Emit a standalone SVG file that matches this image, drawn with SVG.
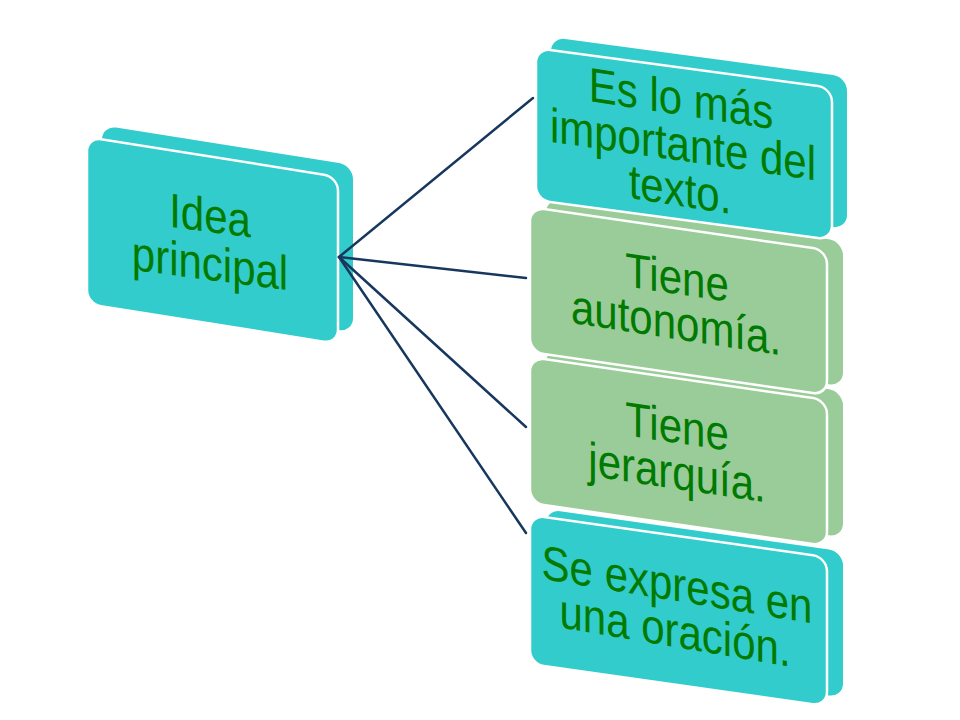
<svg xmlns="http://www.w3.org/2000/svg" width="960" height="720" viewBox="0 0 960 720">
<style>
.teal{fill:#33CCCC}
.green{fill:#99CC99}
.front{stroke:#FFFFFF;stroke-width:2.5}
.lbl{font-family:"Liberation Sans",Arial,sans-serif;font-size:42px;fill:#007A00;text-anchor:middle}
.conn{stroke:#17375E;stroke-width:2.5;fill:none;stroke-linecap:round}
</style>
<rect width="960" height="720" fill="#FFFFFF"/>
<g id="node-idea">
  <g transform="matrix(1,0.159,0,1,87,137)">
    <rect class="teal" x="15" y="-14" width="251" height="167" rx="14"/>
    <rect class="teal front" x="0" y="0" width="251" height="167" rx="14"/>
  </g>
  <text class="lbl" transform="matrix(1,0.13,0,1.15,210,232)">Idea</text>
  <text class="lbl" transform="matrix(1,0.13,0,1.15,210,280)">principal</text>
</g>
<g id="node-4">
  <g transform="matrix(1,0.142,0,1,530,515)">
    <rect class="teal" x="16" y="-8" width="297" height="146" rx="14"/>
    <rect class="teal front" x="0" y="0" width="297" height="149" rx="14"/>
  </g>
  <text class="lbl" transform="matrix(1,0.165,0,1.15,677,601)">Se expresa en</text>
  <text class="lbl" transform="matrix(1,0.17,0,1.15,675,647)">una oración.</text>
</g>
<g id="node-3">
  <g transform="matrix(1,0.145,0,1,530,357)">
    <rect class="green" x="16" y="-11" width="297" height="146" rx="14"/>
    <rect class="green front" x="0" y="0" width="297" height="146" rx="14"/>
  </g>
  <text class="lbl" transform="matrix(1,0.148,0,1.15,677,443)">Tiene</text>
  <text class="lbl" transform="matrix(1,0.15,0,1.15,677,489)">jerarquía.</text>
</g>
<g id="node-2">
  <g transform="matrix(1,0.145,0,1,530,207)">
    <rect class="green" x="16" y="-11" width="297" height="145" rx="14"/>
    <rect class="green front" x="0" y="0" width="297" height="145" rx="14"/>
  </g>
  <text class="lbl" transform="matrix(1,0.148,0,1.15,677,294)">Tiene</text>
  <text class="lbl" transform="matrix(1,0.155,0,1.15,676,339)">autonomía.</text>
</g>
<g id="node-1">
  <g transform="matrix(1,0.135,0,1,536,48)">
    <rect class="teal" x="15" y="-13" width="296" height="152" rx="14"/>
    <rect class="teal front" x="0" y="0" width="296" height="152" rx="14"/>
  </g>
  <text class="lbl" transform="matrix(1,0.153,0,1.15,681,115)">Es lo más</text>
  <text class="lbl" transform="matrix(1,0.145,0,1.15,683,161)">importante del</text>
  <text class="lbl" transform="matrix(1,0.16,0,1.15,680,206)">texto.</text>
</g>
<g id="connectors">
  <line class="conn" x1="339" y1="257" x2="533" y2="98"/>
  <line class="conn" x1="339" y1="257" x2="526" y2="278"/>
  <line class="conn" x1="339" y1="257" x2="526" y2="427"/>
  <line class="conn" x1="339" y1="257" x2="526" y2="533"/>
</g>
</svg>
